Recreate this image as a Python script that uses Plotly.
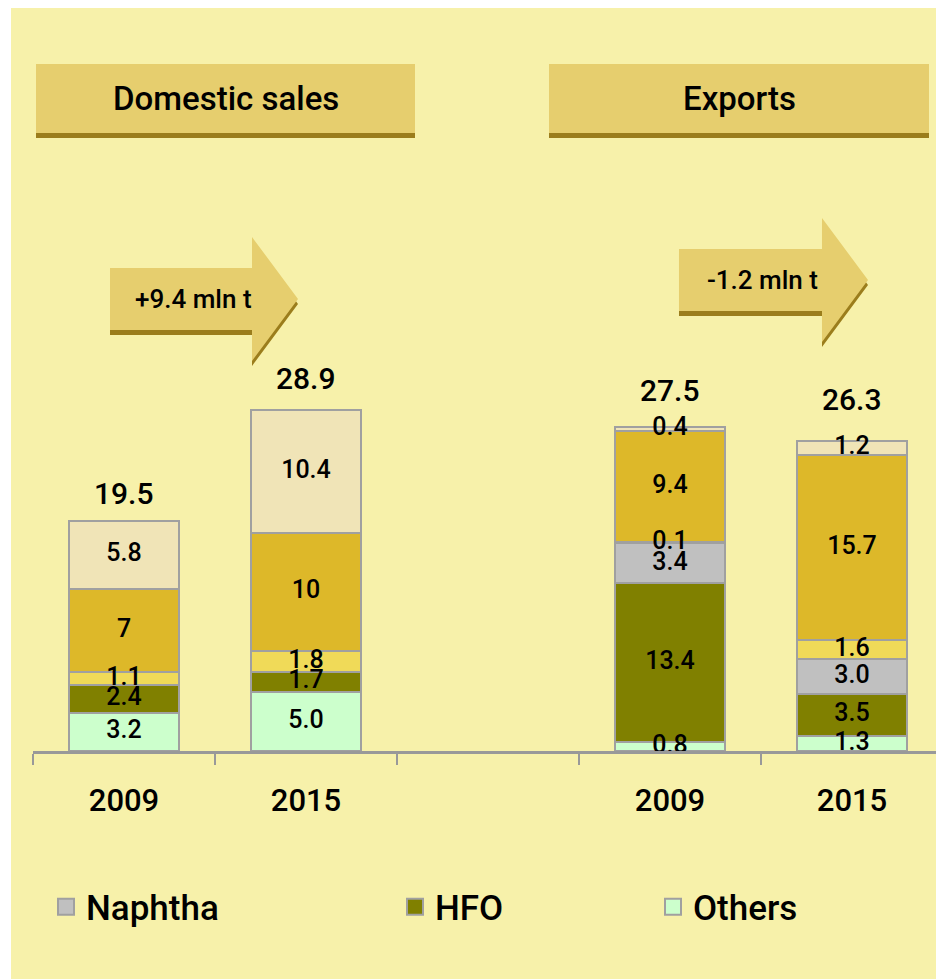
import plotly.graph_objects as go

# ---------------- data ----------------
tick_labels = ["2009", "2015", "", "2009", "2015"]
bar_slots = [0, 1, 3, 4]

others = [3.2, 5.0, 0.8, 1.3]
hfo = [2.4, 1.7, 13.4, 3.5]
naphtha = [0, 0, 3.4, 3.0]
jet = [1.1, 1.8, 0.1, 1.6]
diesel = [7, 10, 9.4, 15.7]
gasoline = [5.8, 10.4, 0.4, 1.2]

panel_titles = ["Domestic sales", "Exports"]
change_labels = ["+9.4 mln t", "-1.2 mln t"]

# ---------------- style ----------------
FONT = "Roboto"
NUM_WEIGHT = 500
BG = "#F7F1AA"
BOX = "#E6CE6E"
DARK = "#9B7D1C"
EDGE = "#A0A0A0"

series = [
    ("Others", others, "#CCFFCC", "{:.1f}"),
    ("HFO", hfo, "#808000", "{:.1f}"),
    ("Naphtha", naphtha, "#C0C0C0", "{:.1f}"),
    ("Jet fuel", jet, "#F0DA58", "{:.1f}"),
    ("Diesel", diesel, "#DDB829", "{:g}"),
    ("Gasoline", gasoline, "#F0E4B7", "{:.1f}"),
]

PAGE_OFF = 8                      # default body margin of the page
PAGE_W, PAGE_H = 944, 979
W_FIG, H_FIG = PAGE_W - PAGE_OFF, PAGE_H - PAGE_OFF
# plot area in page pixels
PL, PR, PT, PB = 33, 943, 13, 751
W = PR - PL
H = PB - PT
PX_PER_UNIT = 11.8


def px(x):
    return (x - PL) / W


def py(y):
    return (PB - y) / H


fig = go.Figure()

for name, vals, color, fmt in series:
    fig.add_trace(go.Bar(
        x=bar_slots, y=vals, name=name, width=0.605,
        marker=dict(color=color, line=dict(color=EDGE, width=2)),
        showlegend=False, legendgroup=name, hoverinfo="skip",
    ))

# segment labels drawn on top of all bars
lab_x, lab_y, lab_t = [], [], []
base = [0.0] * len(bar_slots)
for name, vals, color, fmt in series:
    for i, v in enumerate(vals):
        if v:
            lab_x.append(bar_slots[i])
            lab_y.append(base[i] + v / 2)
            lab_t.append(fmt.format(v))
        base[i] += v
fig.add_trace(go.Scatter(
    x=lab_x, y=lab_y, text=lab_t, mode="text", textposition="middle center",
    textfont=dict(family=FONT, size=25, color="black", weight=NUM_WEIGHT),
    showlegend=False, hoverinfo="skip", cliponaxis=False,
))

# legend entries (three separate legends so they can be placed freely)
legend_names = ["legend", "legend2", "legend3"]
legend_left_px = [46, 395, 653]
for ln, name in zip(legend_names, ["Naphtha", "HFO", "Others"]):
    color = [s[2] for s in series if s[0] == name][0]
    fig.add_trace(go.Scatter(
        x=[None], y=[None], mode="markers", name=name,
        marker=dict(symbol="square", size=16, color=color,
                    line=dict(color=EDGE, width=2)),
        legend=ln, legendgroup=name, showlegend=True,
    ))

totals = [round(sum(v), 1) for v in zip(*[s[1] for s in series])]
total_shift = [27, 31, 36, 41]
for xs, t, sh in zip(bar_slots, totals, total_shift):
    fig.add_annotation(x=xs, y=t, xref="x", yref="y", text=f"{t:.1f}",
                       showarrow=False, yanchor="middle", yshift=sh,
                       font=dict(family=FONT, size=30, color="black", weight=NUM_WEIGHT))

shapes = []
# thin white strip at the left edge
shapes.append(dict(type="rect", xref="paper", yref="paper", x0=px(0), x1=px(11),
                   y0=py(PAGE_H + 50), y1=py(-50), fillcolor="white", line_width=0, layer="below"))

# header boxes
header_boxes = [(36, 415), (549, 929)]
for (x0, x1), title in zip(header_boxes, panel_titles):
    shapes.append(dict(type="rect", xref="paper", yref="paper", x0=px(x0), x1=px(x1),
                       y0=py(133), y1=py(64), fillcolor=BOX, line_width=0, layer="below"))
    shapes.append(dict(type="rect", xref="paper", yref="paper", x0=px(x0), x1=px(x1),
                       y0=py(138), y1=py(133), fillcolor=DARK, line_width=0, layer="below"))
    fig.add_annotation(x=px((x0 + x1) / 2), y=py(98), xref="paper", yref="paper",
                       text=title, showarrow=False, xanchor="center", yanchor="middle",
                       font=dict(family=FONT, size=33, color="black", weight=NUM_WEIGHT))

# arrows: (body left, body right, body top, body bottom, head top, tip x, tip y, head bottom)
arrows = [
    (110, 252, 268, 330, 237, 298, 299, 361),
    (679, 822, 249, 311, 218, 868, 280, 342),
]


def arrow_path(a, dy=0):
    bl, br, bt, bb, ht, tx, ty, hb = a
    pts = [(bl, bt), (br, bt), (br, ht), (tx, ty), (br, hb), (br, bb), (bl, bb)]
    return "M " + " L ".join(f"{px(x):.5f},{py(y + dy):.5f}" for x, y in pts) + " Z"


for a, lab in zip(arrows, change_labels):
    shapes.append(dict(type="path", xref="paper", yref="paper", path=arrow_path(a, 5),
                       fillcolor=DARK, line_width=0, layer="below"))
    shapes.append(dict(type="path", xref="paper", yref="paper", path=arrow_path(a, 0),
                       fillcolor=BOX, line_width=0, layer="below"))
    bl, br, bt, bb = a[0], a[1], a[2], a[3]
    fig.add_annotation(x=px((bl + br) / 2 + 12), y=py((bt + bb) / 2), xref="paper", yref="paper",
                       text=lab, showarrow=False, xanchor="center", yanchor="middle",
                       font=dict(family=FONT, size=26, color="black", weight=NUM_WEIGHT))

legend_common = dict(orientation="h", yanchor="middle", y=py(907), xanchor="left",
                     bgcolor="rgba(0,0,0,0)",
                     font=dict(family=FONT, size=35, color="black", weight=NUM_WEIGHT))
legends = {}
for ln, lx in zip(legend_names, legend_left_px):
    legends[ln] = dict(legend_common, x=px(lx))

fig.update_layout(
    width=W_FIG, height=H_FIG, autosize=False,
    margin=dict(l=PL - PAGE_OFF, r=W_FIG - (PR - PAGE_OFF), t=PT - PAGE_OFF,
                b=H_FIG - (PB - PAGE_OFF)),
    paper_bgcolor=BG, plot_bgcolor=BG,
    barmode="stack", bargap=0.4,
    shapes=shapes,
    xaxis=dict(range=[-0.5, 4.5], tickmode="array", tickvals=list(range(len(tick_labels))),
               ticktext=tick_labels, ticks="", showgrid=False, zeroline=False,
               showline=True, linecolor="#999999", linewidth=3,
               ticklabelstandoff=20,
               tickfont=dict(family=FONT, size=31, color="black", weight=NUM_WEIGHT),
               minor=dict(tickmode="array", tickvals=[i - 0.5 for i in range(len(tick_labels) + 1)],
                          ticks="outside", ticklen=11, tickwidth=2, tickcolor="#999999",
                          showgrid=False),
               fixedrange=True),
    yaxis=dict(range=[0, H / PX_PER_UNIT], visible=False, fixedrange=True),
    **legends,
)

fig.write_html("out.html")
